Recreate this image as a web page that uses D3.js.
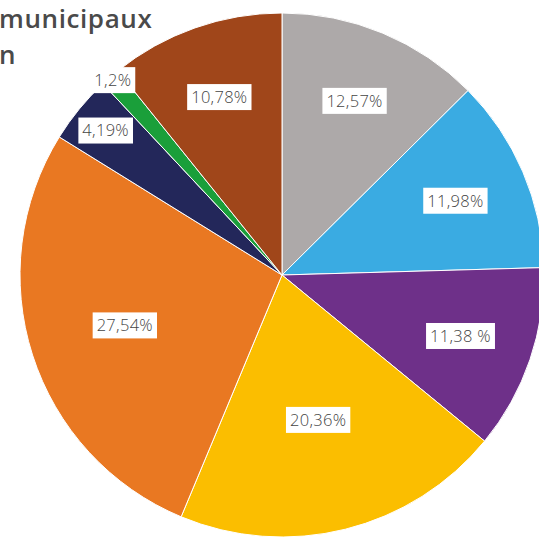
<!DOCTYPE html>
<html>
<head>
<meta charset="utf-8">
<script src="https://cdn.jsdelivr.net/npm/d3@7"></script>
<style>
  html, body { margin: 0; padding: 0; background: #fff; overflow: hidden; }
  svg { display: block; }
</style>
</head>
<body>
<svg id="chart" width="539" height="537"></svg>
<script>
// Data (clockwise from 12 o'clock)
const labels = ["12,57%", "11,98%", "11,38 %", "20,36%", "27,54%", "4,19%", "1,2%", "10,78%"];
const values = [12.57, 11.98, 11.38, 20.36, 27.54, 4.19, 1.2, 10.78];
const colors = ["#ADA9A9", "#3AABE2", "#6E3089", "#FBBE00", "#E97822", "#23275A", "#1A9F3A", "#A0461A"];
const titleLines = ["municipaux", "n"];

const svg = d3.select("#chart");
const cx = 282, cy = 275, R = 262;

const data = values.map((v, i) => ({ value: v, label: labels[i], color: colors[i] }));

const pie = d3.pie().value(d => d.value).sort(null);
const arcs = pie(data);
const arc = d3.arc().innerRadius(0).outerRadius(R);

const g = svg.append("g").attr("transform", `translate(${cx},${cy})`);

g.selectAll("path.slice")
  .data(arcs)
  .enter().append("path")
  .attr("class", "slice")
  .attr("d", arc)
  .attr("fill", d => d.data.color)
  .attr("stroke", "#fff")
  .attr("stroke-width", 1);

// label radius rule: small slices pushed outward, large ones inward
function labelRadius(v) {
  if (v < 2) return 0.985 * R;
  if (v < 5) return 0.87 * R;
  if (v > 25) return 0.63 * R;
  if (v > 18) return 0.57 * R;
  return 0.72 * R;
}

const lg = g.selectAll("g.lab")
  .data(arcs)
  .enter().append("g")
  .attr("class", "lab")
  .attr("transform", d => {
    const a = (d.startAngle + d.endAngle) / 2;
    const r = labelRadius(d.data.value);
    return `translate(${Math.sin(a) * r},${-Math.cos(a) * r})`;
  });

lg.append("rect").attr("fill", "#fff");
lg.append("text")
  .attr("text-anchor", "middle")
  .attr("dy", "0.36em")
  .attr("font-family", "'Open Sans', sans-serif")
  .attr("font-weight", 300)
  .attr("font-size", 16.5)
  .attr("letter-spacing", 0.3)
  .attr("fill", "#444")
  .text(d => d.data.label);

lg.each(function() {
  const t = d3.select(this).select("text").node().getBBox();
  d3.select(this).select("rect")
    .attr("x", t.x - 4).attr("y", -13)
    .attr("width", t.width + 8).attr("height", 26);
});

// Title (cropped in the reference)
svg.append("g").selectAll("text")
  .data(titleLines)
  .enter().append("text")
  .attr("x", -1)
  .attr("y", (d, i) => 28 + i * 36)
  .attr("font-family", "'Open Sans', sans-serif")
  .attr("font-weight", 600)
  .attr("font-size", 26)
  .attr("letter-spacing", 0.6)
  .attr("fill", "#4a4a4a")
  .text(d => d);
</script>
</body>
</html>
